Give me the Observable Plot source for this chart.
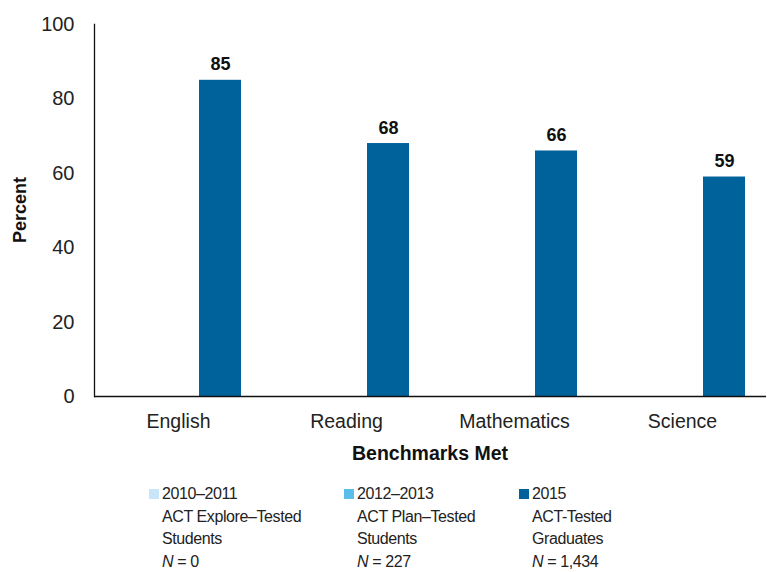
<!DOCTYPE html>
<html><head><meta charset="utf-8">
<script src="https://cdn.jsdelivr.net/npm/d3@7"></script>
<script src="https://cdn.jsdelivr.net/npm/@observablehq/plot@0.6"></script>
<style>
body{margin:0;background:#fff;font-family:"Liberation Sans",Arial,sans-serif;color:#111;}
#wrap{position:relative;width:767px;height:572px;overflow:hidden;}
#legend{position:absolute;left:0;top:483px;width:767px;}
.col{position:absolute;top:0;font-size:16px;line-height:22.5px;color:#222;letter-spacing:-0.4px;white-space:nowrap;}
.sw{position:absolute;left:-13px;top:6px;width:10px;height:10px;}
</style></head><body>
<div id="wrap"><div id="chart"></div><div id="legend"></div></div>
<script>
const categories = ["English", "Reading", "Mathematics", "Science"];
const seriesNames = ["2010–2011", "2012–2013", "2015"];
const seriesColors = ["#c8e6f8", "#5bbde9", "#00629b"];
const values2010 = [null, null, null, null];
const values2012 = [null, null, null, null];
const values2015 = [85, 68, 66, 59];
const legendDesc = [["ACT Explore–Tested", "Students"], ["ACT Plan–Tested", "Students"], ["ACT-Tested", "Graduates"]];
const legendN = ["0", "227", "1,434"];
const yTicks = [0, 20, 40, 60, 80, 100];

const allValues = [values2010, values2012, values2015];
const data = [];
seriesNames.forEach((s, si) => categories.forEach((c, ci) => {
  data.push({category: c, series: s, value: allValues[si][ci]});
}));
const shown = data.filter(d => d.value != null);

const plot = Plot.plot({
  width: 767, height: 470,
  marginLeft: 93, marginRight: 0, marginTop: 24, marginBottom: 74,
  style: {fontFamily: "Liberation Sans, Arial, sans-serif", fontSize: "17px", color: "#222"},
  fx: {domain: categories, padding: 0, label: null},
  x: {domain: seriesNames, paddingInner: 0, paddingOuter: 0.5, axis: null},
  y: {domain: [0, 100], label: null},
  color: {domain: seriesNames, range: seriesColors},
  marks: [
    Plot.barY(shown, {fx: "category", x: "series", y: "value", fill: "series"}),
    Plot.text(shown, {fx: "category", x: "series", y: "value", text: d => String(d.value), lineAnchor: "bottom", dy: -10, fontWeight: "bold", fontSize: 18, fill: "#111"}),
    Plot.ruleY([0], {stroke: "#111", strokeWidth: 1.3}),
    Plot.frame({anchor: "left", facetAnchor: "left", stroke: "#111", strokeWidth: 1.3}),
    Plot.axisY({ticks: yTicks, tickSize: 0, tickPadding: 20, fontSize: 20, label: null, facetAnchor: "left"}),
    Plot.axisFx({anchor: "bottom", tickSize: 0, tickPadding: 18, fontSize: 19.5, label: null})
  ]
});
document.getElementById("chart").appendChild(plot);

const svg = d3.select(plot);
svg.append("text").attr("x", 93 + (767 - 93) / 2).attr("y", 460)
  .attr("text-anchor", "middle").attr("font-weight", "bold").attr("font-size", 19.5)
  .attr("fill", "#111").text("Benchmarks Met");
svg.append("text").attr("transform", "translate(26,210) rotate(-90)")
  .attr("text-anchor", "middle").attr("font-weight", "bold").attr("font-size", 18)
  .attr("fill", "#111").text("Percent");

const legend = d3.select("#legend");
const lefts = [162, 357, 532];
seriesNames.forEach((s, i) => {
  const col = legend.append("div").attr("class", "col").style("left", lefts[i] + "px");
  col.append("div").attr("class", "sw").style("background", seriesColors[i]);
  col.append("div").text(s);
  legendDesc[i].forEach(t => col.append("div").text(t));
  const n = col.append("div");
  n.append("i").text("N");
  n.append("span").text(" = " + legendN[i]);
});
</script>
</body></html>
